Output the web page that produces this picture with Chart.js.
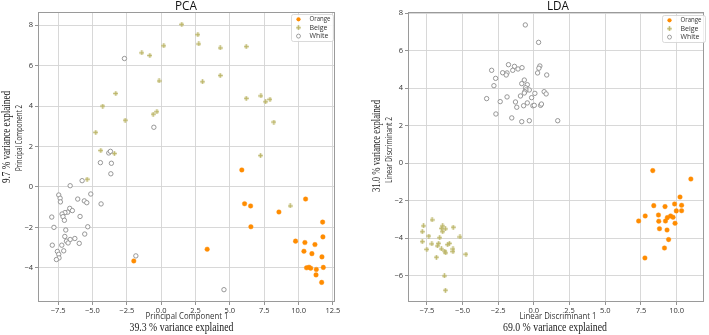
<!DOCTYPE html>
<html>
<head>
<meta charset="utf-8">
<script src="https://cdn.jsdelivr.net/npm/chart.js@4.4.1/dist/chart.umd.min.js"></script>
<style>
  html, body { margin: 0; padding: 0; background: #fff; }
  #wrap { position: relative; width: 709px; height: 335px; }
  canvas { position: absolute; top: 0; }
</style>
</head>
<body>
<div id="wrap">
  <canvas id="pca" width="354" height="335" style="left:0;width:354px;height:335px"></canvas>
  <canvas id="lda" width="355" height="335" style="left:354px;width:355px;height:335px"></canvas>
</div>
<script>
// classes (legend order)
const classes = ['Orange', 'Beige', 'White'];

// tick labels
const pcaXTicks = [-7.5, -5, -2.5, 0, 2.5, 5, 7.5, 10, 12.5];
const pcaYTicks = [-4, -2, 0, 2, 4, 6, 8];
const ldaXTicks = [-7.5, -5, -2.5, 0, 2.5, 5, 7.5, 10];
const ldaYTicks = [-6, -4, -2, 0, 2, 4, 6, 8];

// PCA scores [PC1, PC2]
const pcaOrange = [
  [5.87, 0.84], [6.07, -0.83], [6.51, -0.94], [8.57, -1.24], [10.51, -0.60], [6.53, -1.97],
  [3.35, -3.08], [11.75, -1.74], [11.77, -2.47], [9.78, -2.68], [10.46, -2.75], [11.19, -2.85],
  [10.39, -3.18], [10.97, -3.30], [11.70, -3.46], [10.58, -4.00], [10.76, -3.97], [10.88, -4.02],
  [11.29, -4.08], [11.80, -3.98], [11.27, -4.35], [11.68, -4.72], [-1.99, -3.66]
];
const pcaBeige = [
  [-1.41, 6.63], [-0.82, 6.50], [0.19, 6.98], [-0.15, 5.24], [-3.30, 4.62], [-4.25, 4.00],
  [-2.62, 3.30], [-0.58, 3.60], [-0.31, 3.72], [-4.76, 2.70], [-4.39, 1.80], [-3.40, 1.65],
  [1.50, 8.04], [2.67, 7.53], [2.74, 7.07], [4.30, 6.87], [6.19, 6.94], [3.01, 5.20],
  [4.30, 5.51], [6.19, 4.38], [7.26, 4.50], [7.60, 4.21], [7.92, 4.33], [8.20, 3.21],
  [7.23, 1.55], [-5.39, 0.38], [9.39, -0.94]
];
const pcaWhite = [
  [-2.67, 6.35], [-0.53, 2.95], [-4.42, 1.20], [-3.62, 1.17], [-3.81, 1.68], [-3.69, 1.76],
  [-5.75, 0.31], [-3.66, 0.65], [-6.62, 0.06], [-7.45, -0.40], [-7.35, -0.56], [-7.33, -0.74],
  [-6.07, -0.60], [-5.12, -0.35], [-5.59, -0.69], [-5.41, -0.78], [-4.37, -0.84], [-6.65, -1.06],
  [-6.46, -1.17], [-6.80, -1.25], [-7.00, -1.27], [-7.21, -1.34], [-7.14, -1.47], [-7.96, -1.49],
  [-5.90, -1.46], [-7.04, -1.65], [-7.80, -2.00], [-5.34, -1.97], [-6.94, -2.13], [-5.56, -2.33],
  [-7.01, -2.45], [-6.28, -2.55], [-6.62, -2.60], [-6.89, -2.68], [-6.77, -2.77], [-5.96, -2.79],
  [-7.92, -2.88], [-7.23, -2.88], [-7.09, -3.16], [-7.55, -3.19], [-7.45, -3.33], [-7.43, -3.51],
  [-7.62, -3.59], [-1.84, -3.41], [4.57, -5.08]
];

// LDA scores [LD1, LD2]
const ldaOrange = [
  [8.33, -0.39], [11.00, -0.84], [10.24, -1.80], [8.40, -2.26], [9.19, -2.31], [9.86, -2.17],
  [10.35, -2.24], [9.98, -2.54], [10.35, -2.53], [7.80, -2.81], [8.73, -2.76], [9.58, -2.81],
  [9.75, -2.88], [9.35, -2.90], [7.34, -3.08], [8.75, -3.09], [9.22, -3.08], [9.89, -3.20],
  [8.80, -3.49], [9.33, -3.56], [9.44, -4.07], [9.15, -4.52], [7.78, -5.05]
];
const ldaBeige = [
  [-7.13, -3.02], [-7.73, -3.34], [-7.82, -3.65], [-6.39, -3.34], [-6.48, -3.47], [-6.20, -3.50],
  [-6.39, -3.65], [-5.65, -3.41], [-7.36, -3.88], [-6.60, -3.97], [-5.18, -3.93], [-7.82, -4.18],
  [-7.15, -4.30], [-6.67, -4.27], [-6.76, -4.41], [-5.92, -4.27], [-6.04, -4.34], [-6.48, -4.57],
  [-7.50, -4.59], [-5.67, -4.57], [-5.67, -4.71], [-6.25, -4.68], [-6.18, -4.78], [-4.76, -4.85],
  [-6.83, -5.01], [-6.27, -6.01], [-6.20, -6.77]
];
const ldaWhite = [
  [-0.60, 7.38], [-1.78, 5.26], [-1.36, 5.17], [-1.11, 5.03], [-0.83, 5.10], [-1.48, 4.96],
  [-2.96, 4.96], [-2.19, 4.83], [-1.88, 4.82], [-1.94, 4.71], [-2.68, 4.53], [-0.67, 4.44],
  [-0.85, 4.25], [-0.46, 4.19], [-2.80, 4.14], [-0.58, 4.03], [-0.32, 3.91], [-0.56, 3.91],
  [-0.63, 3.82], [-0.67, 3.75], [-0.94, 3.59], [-0.16, 3.50], [-3.31, 3.45], [-1.88, 3.54],
  [-2.36, 3.29], [-1.29, 3.27], [-0.46, 3.22], [-1.20, 2.99], [-0.72, 3.07], [-0.07, 3.07],
  [-2.66, 2.63], [-1.55, 2.42], [-0.85, 2.22], [-0.32, 2.27], [0.33, 6.45], [0.42, 5.19],
  [0.35, 5.07], [0.26, 4.82], [0.90, 4.71], [0.07, 3.73], [0.72, 3.82], [0.86, 3.70],
  [0.03, 3.09], [0.47, 3.09], [0.53, 3.16], [1.67, 2.27]
];

const ORANGE = '#ff8c00';
const BEIGE = '#bdb76b';
const WHITE_EDGE = '#8c8c8c';

// small filled plus marker for Beige
const plus = document.createElement('canvas');
plus.width = 5; plus.height = 5;
(function () {
  const c = plus.getContext('2d');
  c.fillStyle = BEIGE;
  c.fillRect(1.7, 0.2, 1.6, 4.6);
  c.fillRect(0.2, 1.7, 4.6, 1.6);
})();

const fmtX = v => (v < 0 ? '\u2212' : '') + Math.abs(v).toFixed(1);
const fmtY = v => (v < 0 ? '\u2212' : '') + Math.abs(v);

function drawMarker(ctx, cls, x, y) {
  ctx.save();
  if (cls === 'Orange') {
    ctx.fillStyle = ORANGE;
    ctx.beginPath(); ctx.arc(x, y, 2.1, 0, Math.PI * 2); ctx.fill();
  } else if (cls === 'Beige') {
    ctx.drawImage(plus, x - 2.5, y - 2.5);
  } else {
    ctx.fillStyle = '#fff'; ctx.strokeStyle = WHITE_EDGE; ctx.lineWidth = 0.8;
    ctx.beginPath(); ctx.arc(x, y, 2, 0, Math.PI * 2); ctx.fill(); ctx.stroke();
  }
  ctx.restore();
}

function txt(ctx, s, x, y, font, maxW, vertical, color) {
  ctx.save();
  ctx.translate(x, y);
  if (vertical) ctx.rotate(-Math.PI / 2);
  ctx.font = font;
  ctx.fillStyle = color || '#222';
  ctx.textAlign = 'center';
  ctx.textBaseline = 'middle';
  ctx.fillText(s, 0, 0, maxW);
  ctx.restore();
}

// frame, titles, outer labels and legend
function figText(t) {
  return {
    id: 'figText',
    beforeDatasetsDraw(chart) {
      const a = chart.chartArea, ctx = chart.ctx;
      ctx.save();
      ctx.strokeStyle = '#9a9a9a';
      ctx.lineWidth = 1;
      ctx.strokeRect(a.left + 0.5, a.top + 0.5, a.right - a.left - 1, a.bottom - a.top - 1);
      ctx.restore();
    },
    afterDraw(chart) {
      const ctx = chart.ctx;
      const sans = 'Open Sans';
      txt(ctx, t.title, t.titleX, 6, '12.5px ' + sans, 22, false, '#111');
      txt(ctx, t.xTitle, t.xTitleX, 316, '9px ' + sans, t.xTitleW, false, '#333');
      txt(ctx, t.xVar, t.xVarX, 328, '12px "Liberation Serif"', 104, false, '#222');
      txt(ctx, t.yTitle, t.yTitleX, t.yTitleY, '9px ' + sans, 66, true, '#333');
      txt(ctx, t.yVar, t.yVarX, t.yVarY, '12px "Liberation Serif"', 92, true, '#222');

      const L = t.legend;
      ctx.save();
      ctx.fillStyle = 'rgba(255,255,255,0.85)';
      ctx.strokeStyle = '#d0d0d0';
      ctx.lineWidth = 0.8;
      ctx.beginPath();
      ctx.roundRect(L.x + 0.5, L.y + 0.5, L.w, L.h, 2);
      ctx.fill(); ctx.stroke();
      ctx.restore();
      classes.forEach((c, i) => {
        const yy = L.y + 5.3 + i * 8.4;
        drawMarker(ctx, c, L.x + 7.5, yy);
        ctx.save();
        ctx.font = '7px ' + sans;
        ctx.fillStyle = '#333';
        ctx.textAlign = 'left';
        ctx.textBaseline = 'middle';
        ctx.fillText(c, L.x + 18.5, yy, 21);
        ctx.restore();
      });
    }
  };
}

function makeChart(id, d, xTicks, yTicks, range, layout, t) {
  const toPts = arr => arr.map(p => ({ x: p[0], y: p[1] }));
  const tickFont = { family: 'Open Sans', size: 7.5 };
  const grid = { color: '#d4d4d4', lineWidth: 0.9, tickLength: 3, tickColor: '#777', tickWidth: 0.8 };
  return new Chart(document.getElementById(id), {
    type: 'scatter',
    data: {
      datasets: [
        { label: classes[0], data: toPts(d[0]), order: 3, pointStyle: 'circle',
          pointRadius: 2.3, pointBackgroundColor: ORANGE, pointBorderColor: ORANGE, pointBorderWidth: 0.4 },
        { label: classes[1], data: toPts(d[1]), order: 2, pointStyle: plus, pointRadius: 3 },
        { label: classes[2], data: toPts(d[2]), order: 1, pointStyle: 'circle',
          pointRadius: 2.2, pointBackgroundColor: '#fff', pointBorderColor: WHITE_EDGE, pointBorderWidth: 0.9 }
      ]
    },
    options: {
      responsive: false,
      animation: false,
      events: [],
      layout: { padding: { left: 0, top: 12, right: layout.right, bottom: 0 } },
      plugins: { legend: { display: false }, tooltip: { enabled: false } },
      scales: {
        x: {
          type: 'linear', min: range.x[0], max: range.x[1],
          afterBuildTicks: s => { s.ticks = xTicks.map(v => ({ value: v })); },
          afterFit: s => { s.height = 33; },
          grid: grid,
          border: { display: false },
          ticks: { callback: fmtX, font: tickFont, color: '#333', padding: 1, maxRotation: 0, autoSkip: false }
        },
        y: {
          type: 'linear', min: range.y[0], max: range.y[1],
          afterBuildTicks: s => { s.ticks = yTicks.map(v => ({ value: v })); },
          afterFit: s => { s.width = layout.yw; },
          grid: grid,
          border: { display: false },
          ticks: { callback: fmtY, font: tickFont, color: '#333', padding: 2, autoSkip: false }
        }
      }
    },
    plugins: [figText(t)]
  });
}

makeChart('pca', [pcaOrange, pcaBeige, pcaWhite], pcaXTicks, pcaYTicks,
  { x: [-8.96, 12.65], y: [-5.69, 8.65] },
  { right: 19, yw: 38 },
  { title: 'PCA', titleX: 186, xTitle: 'Principal Component 1', xTitleX: 187, xTitleW: 83,
    xVar: '39.3 % variance explained', xVarX: 181.5,
    yTitle: 'Principal Component 2', yTitleX: 19, yTitleY: 138,
    yVar: '9.7 % variance explained', yVarX: 6.5, yVarY: 137,
    legend: { x: 291, y: 14, w: 42, h: 27 } });

makeChart('lda', [ldaOrange, ldaBeige, ldaWhite], ldaXTicks, ldaYTicks,
  { x: [-8.82, 11.92], y: [-7.40, 8.07] },
  { right: 2, yw: 54 },
  { title: 'LDA', titleX: 204, xTitle: 'Linear Discriminant 1', xTitleX: 204, xTitleW: 77,
    xVar: '69.0 % variance explained', xVarX: 201,
    yTitle: 'Linear Discriminant 2', yTitleX: 35, yTitleY: 150,
    yVar: '31.0 % variance explained', yVarX: 22.5, yVarY: 146,
    legend: { x: 308, y: 15, w: 43, h: 27 } });
</script>
</body>
</html>
